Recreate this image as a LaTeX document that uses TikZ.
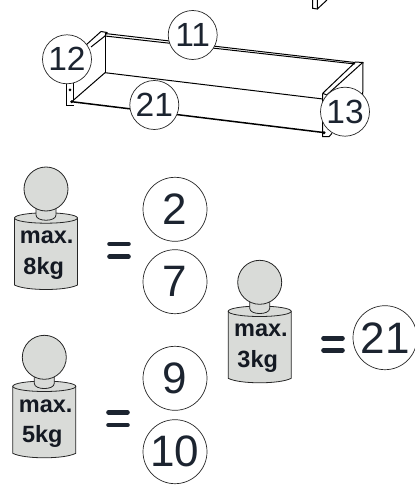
\documentclass[tikz,border=0pt]{standalone}
\usepackage{fontspec}
\setmainfont{Liberation Sans}
\definecolor{ink}{HTML}{1C2430}
\definecolor{wgrey}{HTML}{D9DBD8}
\tikzset{
  num/.style={circle,draw=black!85,line width=0.7pt,fill=white,minimum size=#1,inner sep=0pt,text=ink},
  bignum/.style={num=64pt,font=\fontsize{44}{44}\selectfont},
  smallnum/.style={num=49pt,font=\fontsize{33.5}{33.5}\selectfont},
  wline/.style={draw=black!85,line width=0.8pt,fill=wgrey},
  wtext/.style={font=\bfseries\fontsize{23.5}{23.5}\selectfont,text=ink!70!black,inner sep=0pt},
  eqbar/.style={line width=4.6pt,line cap=round,color=ink},
  panel/.style={line width=1pt,color=black},
  thick edge/.style={line width=1.5pt,color=black}
}
\newcommand{\weightshape}[2]{%
  \path[wline] (#1-31.5,#2+29) -- (#1-31.5,#2+96) .. controls (#1-20,#2+102) and (#1+20,#2+102) .. (#1+31.5,#2+96) -- (#1+31.5,#2+29) -- cycle;
  \path[wline] (#1,#2+29) ellipse [x radius=31.5,y radius=5.2];
  \path[wline] (#1-10,#2+18) -- (#1-10,#2+26) .. controls (#1-10,#2+33) and (#1+10,#2+33) .. (#1+10,#2+26) -- (#1+10,#2+18) -- cycle;
  \path[wline] (#1,#2) circle [radius=22];
}
\begin{document}
\begin{tikzpicture}[x=1pt,y=-1pt]
\useasboundingbox (0,0) rectangle (414,494);
% fragment at the top
\draw[panel] (312.7,0) -- (312.7,8.3) -- (317.3,9) -- (317.3,0);
\draw[panel] (327,0) -- (317.3,9);
% tray
\draw[panel] (105,33.5) -- (355,62.5);
\draw[panel] (105,36) -- (355,64);
\draw[panel] (86,45) -- (101,31.5) -- (107,32.5) -- (105,36);
\draw[panel] (91,47) -- (105,36);
\draw[panel] (105,33.5) -- (105,72.7);
\draw[panel] (105,72.7) -- (323,99);
\draw[panel] (105,72.7) -- (71.7,101.7);
\draw[thick edge] (71.7,101.7) -- (325,132.7);
\draw[panel] (66.7,83) -- (66.7,105.7) -- (74,105.7);
\draw[panel] (73.3,83) -- (73.3,100);
\fill (70,90) circle [radius=1.5];
\fill (71.7,101.7) circle [radius=1.6];
\draw[panel] (355,62.5) -- (322.7,93.3);
\draw[panel] (362.7,62.5) -- (326.7,95);
\draw[panel] (355,62) -- (363,62.5) -- (362.7,97);
\draw[panel] (322.7,93.3) -- (322.7,136.7) -- (329,136.7) -- (332,133.3);
\draw[panel] (322.7,93.3) -- (326.7,95);
\fill (324,132.7) circle [radius=1.6];
% item numbers of the tray
\node[smallnum] (n11) at (192.7,35) {11};
\node[smallnum] (n12) at (67,59.3) {12};
\node[smallnum] (n21a) at (154.3,105) {21};
\node[smallnum] (n13) at (345,111.7) {13};
% weights
\weightshape{46}{189}
\node[wtext] (max1) at (46.7,237.3) {max.};
\node[wtext] (kg1) at (43.7,268) {8kg};
\weightshape{44.3}{357.3}
\node[wtext] (max2) at (45.7,406) {max.};
\node[wtext] (kg2) at (42.3,436.7) {5kg};
\weightshape{259.7}{282.3}
\node[wtext] (max3) at (261,330.7) {max.};
\node[wtext] (kg3) at (257.7,361.7) {3kg};
% equals signs
\draw[eqbar] (109.5,244) -- (128.5,244);
\draw[eqbar] (109.5,256.7) -- (128.5,256.7);
\draw[eqbar] (108.5,412.3) -- (127.5,412.3);
\draw[eqbar] (108.5,425) -- (127.5,425);
\draw[eqbar] (323.5,338.3) -- (342.5,338.3);
\draw[eqbar] (323.5,350.3) -- (342.5,350.3);
% part numbers
\node[bignum] (n2) at (175,209.3) {2};
\node[bignum] (n7) at (175,281.7) {7};
\node[bignum] (n9) at (175,378.3) {9};
\node[bignum] (n10) at (175,451.7) {10};
\node[bignum] (n21b) at (385,337.7) {21};
\end{tikzpicture}
\end{document}
